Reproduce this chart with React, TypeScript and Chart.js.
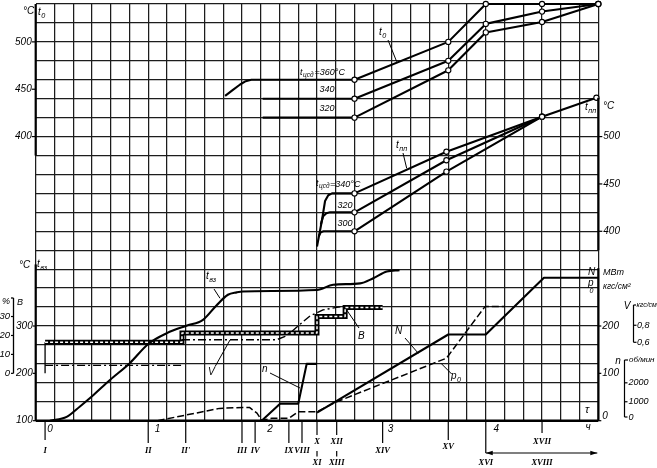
import React, { useEffect, useRef } from "react";
import { Chart, registerables } from "chart.js";
Chart.register(...registerables);

// x: minutes from event I (start); grid every 10 min
const xGridMinutes = [-5, 5, 15, 25, 35, 45, 55, 65, 75, 85, 95, 105, 115, 125, 135, 145, 155, 165, 175, 185, 195, 205, 215, 225, 235, 245, 255, 265, 275, 285, 295];
const hourTicks = [0, 1, 2, 3, 4];

// axis tick labels
const t0Ticks = [400, 450, 500];
const tppTicks = [400, 450, 500];
const tb3Ticks = [100, 200, 300];
const bTicks = [0, 10, 20, 30];
const npTicks = [0, 100, 200];
const vTicks = [0.6, 0.8];
const nTicks = [0, 1000, 2000];

// live steam temperature t0, °C  [minute, value]
const t0_360 = [[96, 443], [100, 449], [104, 455], [107, 458.5], [110, 460], [165, 460], [215, 500], [235, 540], [265, 540], [295, 540]];
const t0_340 = [[116, 440], [165, 440], [215, 480], [235, 519], [265, 532], [295, 540]];
const t0_320 = [[116, 420], [165, 420], [215, 470], [235, 510], [265, 521], [295, 540]];

// reheat temperature tпп, °C
const tpp_340 = [[145, 384], [147.5, 410], [149.3, 432], [151, 438], [153, 440], [165, 440], [214, 484], [265, 521], [294, 541]];
const tpp_320 = [[147, 407], [148.3, 416], [150, 419], [152, 420], [165, 420], [214, 475], [265, 521]];
const tpp_300 = [[146, 395], [147, 399], [148.5, 400], [165, 400], [214, 463], [265, 521]];

// tвз, °C
const tb3 = [[2.6, 100], [11.5, 108], [18.6, 130], [24.9, 151], [34.6, 186], [45.3, 222], [55, 262], [65, 285], [75.7, 301], [84.2, 313], [91.5, 344], [97.5, 366], [102.2, 371], [105.5, 373], [145, 376], [153.6, 387], [168, 390], [175, 401], [182.2, 415], [189, 418]];

// В, %
const bVals = [[0, 0], [0, 16.4], [73, 16.4], [73, 21.3], [145, 21.3], [145, 30], [160, 30], [160, 34.7], [180, 34.7]];

// V, кгс/см²
const vValsEarly = [[0, 0.33], [73, 0.33]];
const vVals = [[73, 0.63], [123.5, 0.63], [128, 0.67], [131.7, 0.73], [135.9, 0.81], [141.3, 0.91], [148.2, 0.98], [155.5, 1.01], [158.9, 1.02]];

// n, об/мин
const nVals = [[115.5, 0], [125.3, 900], [135, 900], [139.5, 3000], [145, 3000]];

// p0, кгс/см²
const p0Vals = [[60, 0], [93, 26], [105.5, 28], [109, 28], [113, 16], [115.5, 1], [121, 5], [130, 5], [135, 19], [145, 19], [155.5, 40], [214, 132], [234.6, 241], [245.3, 241]];

// N, МВт
const NVals = [[145, 17], [215, 182], [235, 182], [266, 302], [295, 302]];

// events along the time axis
const eventMinutes = [0, 55, 75, 105, 112, 130, 137, 145, 155.5, 180, 215, 235, 265];
const eventUpper = ["I", "II", "II'", "III", "IV", "IX", "VIII", "X", "XII", "XIV", "XV", "", "XVII"];
const eventLower = ["", "", "", "", "", "", "", "XI", "XIII", "", "", "XVI", "XVIII"];
const dimFrom = 235;
const dimTo = 295;

const FONT = '"Liberation Sans", Arial, sans-serif';

const overlay = {
  id: "overlay",
  afterDraw(chart: any) {
    const { ctx, chartArea: a, scales } = chart;
    const X = (m: number) => scales.x.getPixelForValue(m);
    const Y = (id: string, v: number) => scales[id].getPixelForValue(v);
    ctx.save();
    ctx.strokeStyle = "#000";
    ctx.fillStyle = "#000";
    const line = (x1: number, y1: number, x2: number, y2: number, w = 1) => {
      ctx.lineWidth = w;
      ctx.beginPath();
      ctx.moveTo(x1, y1);
      ctx.lineTo(x2, y2);
      ctx.stroke();
    };
    const txt = (s: string, x: number, y: number, size = 10, align = "left", bold = false, fam = FONT) => {
      ctx.font = `italic ${bold ? "bold " : ""}${size}px ${fam}`;
      ctx.textAlign = align;
      ctx.textBaseline = "middle";
      ctx.fillText(s, x, y);
      return ctx.measureText(s).width;
    };
    const sub = (main: string, s: string, x: number, y: number, size = 10) => {
      const w1 = txt(main, x, y, size);
      const w2 = txt(s, x + w1 + 0.5, y + size * 0.4, size * 0.72);
      return x + w1 + 0.5 + w2;
    };

    // thick axis segments
    line(a.left, Y("yT0", 540), a.left, Y("yT0", 380), 2.2);
    line(a.left, Y("yTb", 430), a.left, Y("yTb", 100), 2.2);
    line(a.right, Y("yTpp", 541), a.right, Y("yTpp", 380), 2.2);
    line(a.right, Y("yP", 322), a.right, Y("yP", 0), 2.2);
    line(a.left, a.bottom, a.right, a.bottom, 2.4);

    // left t0 axis
    txt("°C", 23, 11, 10);
    sub("t", "0", 38, 12, 10);
    t0Ticks.forEach((v) => {
      const y = Y("yT0", v);
      line(a.left - 4, y, a.left, y, 1.2);
      txt(String(v), a.left - 4, y, 10, "right");
    });

    // right tпп axis
    sub("t", "пп", 585, 107, 10);
    txt("°C", 603, 106, 10);
    tppTicks.forEach((v) => {
      const y = Y("yTpp", v);
      line(a.right, y, a.right + 4, y, 1.2);
      txt(String(v), a.right + 5, y, 10, "left");
    });

    // left tвз axis
    txt("°C", 19, 265, 10);
    sub("t", "вз", 37, 264, 10);
    tb3Ticks.forEach((v) => {
      const y = Y("yTb", v);
      line(a.left - 3, y, a.left, y, 1.2);
      txt(String(v), a.left - 3, y, 10, "right");
    });

    // В % bracket
    txt("%", 2, 301, 9);
    txt("В", 17, 302, 9);
    line(13.5, 298, 13.5, Y("yB", 0), 1.3);
    line(11, 298, 13.5, 298, 1.3);
    bTicks.forEach((v) => {
      const y = Y("yB", v);
      line(11, y, 13.5, y, 1.2);
      txt(String(v), 10, y, 9.5, "right");
    });

    // right N / p0 axis
    txt("N", 588, 272, 10);
    txt("МВт", 603, 272, 9);
    txt("p", 588, 283, 10);
    txt("0", 589.5, 291, 7);
    txt("кгс/см²", 603, 287, 8.5);
    npTicks.forEach((v) => {
      const y = Y("yP", v);
      line(a.right, y, a.right + 3, y, 1.2);
      txt(String(v), a.right + 4, v === 0 ? y - 4 : y, 10, "left");
    });

    // V bracket
    txt("V", 627, 306, 10, "center");
    const vTop = 305;
    line(633.5, vTop, 633.5, Y("yV", 0.6), 1.2);
    line(633.5, vTop, 636, vTop, 1.2);
    txt("кгс/см²", 636.5, vTop, 7);
    vTicks.forEach((v) => {
      const y = Y("yV", v);
      line(633.5, y, 636.5, y, 1.2);
      txt(String(v).replace(".", ","), 637, y, 9, "left");
    });

    // n bracket
    txt("n", 618, 361, 10, "center");
    line(624.5, 360, 624.5, 417, 1.2);
    line(624.5, 360, 628, 360, 1.2);
    txt("об/мин", 629, 360, 8);
    nTicks.forEach((v) => {
      const y = v === 0 ? 417 : Y("yN", v);
      line(624.5, y, 627.5, y, 1.2);
      txt(String(v), 628.5, y, 9, "left");
    });

    // in-chart labels and leaders
    let xe = sub("t", "цсд", 300, 72, 9);
    txt("=360°C", xe + 1, 72, 9);
    txt("340", 327, 89, 9, "center");
    txt("320", 327, 108, 9, "center");
    sub("t", "0", 379, 32, 10);
    line(388, 40, 396.7, 61.7, 1);
    sub("t", "пп", 396, 145, 10);
    line(403, 153, 406.7, 168.3, 1);
    xe = sub("t", "цсд", 316, 183, 9);
    txt("=340°C", xe + 0.5, 184, 9);
    txt("320", 345, 205, 9, "center");
    txt("300", 345, 223, 9, "center");
    sub("t", "вз", 206, 276, 10);
    line(214, 289, 220, 298.3, 1);
    txt("V", 208, 372, 10);
    line(215, 366.7, 230, 340, 1);
    txt("В", 358, 336, 10);
    line(359, 328, 346.7, 310, 1);
    txt("n", 262, 369, 10);
    line(270, 373, 300, 388, 1);
    txt("N", 395, 331, 10);
    line(405, 338, 418.3, 353.3, 1);
    sub("p", "0", 451, 376, 10);
    line(441, 363.3, 451.7, 374, 1);
    txt("τ", 585, 410, 11);

    // hour labels
    hourTicks.forEach((h) => {
      const off = h === 0 ? 5 : h === 3 ? 8 : h === 4 ? 1 : 0;
      txt(String(h), X(h * 60) + off, 429, 10, "center");
    });
    txt("ч", 588, 427, 10, "center");

    // event marks
    const RF = '"Liberation Serif", serif';
    const RS = 8.5;
    eventMinutes.forEach((m, i) => {
      const x = X(m);
      const up = eventUpper[i];
      const lo = eventLower[i];
      if (up && lo) {
        const tickEnd = m === 265 ? 433 : 435;
        line(x, a.bottom, x, tickEnd, 1.2);
        txt(up, x, 442, RS, "center", true, RF);
        if (m !== 265) line(x, 451, x, 456.5, 1.2);
        txt(lo, x, 463, RS, "center", true, RF);
      } else if (lo) {
        line(x, a.bottom, x, 453, 1.2);
        txt(lo, x, 463, RS, "center", true, RF);
      } else {
        const end = m === 0 ? 440 : m === 215 ? 440 : 443;
        line(x, a.bottom, x, end, 1.2);
        txt(up, x, m === 215 ? 447 : 450.5, RS, "center", true, RF);
      }
    });

    // dimension arrow
    const x1 = X(dimFrom), x2 = X(dimTo) - 1, ya = 453;
    line(x1, ya, x2, ya, 1.1);
    ctx.beginPath();
    ctx.moveTo(x2, ya); ctx.lineTo(x2 - 7, ya - 2.2); ctx.lineTo(x2 - 7, ya + 2.2); ctx.closePath(); ctx.fill();
    ctx.beginPath();
    ctx.moveTo(x1, ya); ctx.lineTo(x1 + 7, ya - 2.2); ctx.lineTo(x1 + 7, ya + 2.2); ctx.closePath(); ctx.fill();

    ctx.restore();
  },
};

export default function App() {
  const ref = useRef<HTMLCanvasElement>(null);
  useEffect(() => {
    const canvas = ref.current!;
    const pts = (arr: number[][]) => arr.map(([x, y]) => ({ x, y }));
    const base = { fill: false, tension: 0, pointRadius: 0, borderColor: "#000", borderJoinStyle: "round" as const };
    const marker = {
      pointRadius: (c: any) => (c.raw && c.raw.x >= 165 ? 2.6 : 0),
      pointBackgroundColor: "#fff",
      pointBorderColor: "#000",
      pointBorderWidth: 1.1,
      pointHoverRadius: 0,
      clip: false as any,
    };
    const gridOpts = { color: "#1c1c1c", lineWidth: 1.25, drawTicks: false };
    const hidden = (min: number, max: number) => ({ type: "linear" as const, display: false, min, max });
    const chart = new Chart(canvas, {
      type: "line",
      data: {
        datasets: [
          { ...base, ...marker, data: pts(t0_360), yAxisID: "yT0", borderWidth: 2.1, order: 1 },
          { ...base, ...marker, data: pts(t0_340), yAxisID: "yT0", borderWidth: 2.1, order: 1 },
          { ...base, ...marker, data: pts(t0_320), yAxisID: "yT0", borderWidth: 2.1, order: 1 },
          { ...base, ...marker, data: pts(tpp_340), yAxisID: "yTpp", borderWidth: 2.1, order: 1 },
          { ...base, ...marker, data: pts(tpp_320), yAxisID: "yTpp", borderWidth: 2.1, order: 1 },
          { ...base, ...marker, data: pts(tpp_300), yAxisID: "yTpp", borderWidth: 2.1, order: 1 },
          { ...base, data: pts(tb3), yAxisID: "yTb", borderWidth: 2.1, cubicInterpolationMode: "monotone", order: 2 },
          { ...base, data: pts(bVals.slice(0, 2)), yAxisID: "yB", borderWidth: 1.3, order: 5 },
          { ...base, data: pts(bVals.slice(1)), yAxisID: "yB", borderColor: "#fff", borderWidth: 1.5, borderDash: [3, 2], order: 4 },
          { ...base, data: pts(bVals.slice(1)), yAxisID: "yB", borderWidth: 5, borderJoinStyle: "miter", order: 6 },
          { ...base, data: pts(vValsEarly), yAxisID: "yV", borderWidth: 1.3, borderDash: [8, 3, 2, 3], order: 3 },
          { ...base, data: pts(vVals), yAxisID: "yV", borderWidth: 1.4, borderDash: [8, 3, 2, 3], order: 3 },
          { ...base, data: pts(nVals), yAxisID: "yN", borderWidth: 2.1, order: 2 },
          { ...base, data: pts(p0Vals), yAxisID: "yP", borderWidth: 1.5, borderDash: [7, 3], order: 3 },
          { ...base, data: pts(NVals), yAxisID: "yP", borderWidth: 2.1, order: 2 },
        ],
      },
      options: {
        animation: false,
        responsive: false,
        events: [],
        layout: { padding: { left: 35.7, right: 58.7, top: 4, bottom: 47.3 } },
        plugins: { legend: { display: false }, tooltip: { enabled: false } },
        scales: {
          x: {
            type: "linear",
            min: -5,
            max: 295,
            afterBuildTicks: (s: any) => {
              s.ticks = xGridMinutes.map((v) => ({ value: v }));
            },
            ticks: { display: false },
            grid: gridOpts,
            border: { display: false },
          },
          yT0: {
            type: "linear",
            position: "left",
            min: 100,
            max: 540,
            ticks: { display: false, stepSize: 20 },
            grid: gridOpts,
            border: { display: false },
          },
          yTpp: hidden(200, 640),
          yTb: hidden(100, 980),
          yB: hidden(-25, 195),
          yV: hidden(-0.32, 4.57),
          yN: hidden(0, 22000),
          yP: hidden(0, 880),
        },
      } as any,
      plugins: [overlay as any],
    });
    return () => chart.destroy();
  }, []);
  return (
    <div style={{ position: "absolute", left: 0, top: 0, width: 657, height: 468, background: "#fff" }}>
      <canvas ref={ref} width={657} height={468} style={{ display: "block" }} />
    </div>
  );
}
